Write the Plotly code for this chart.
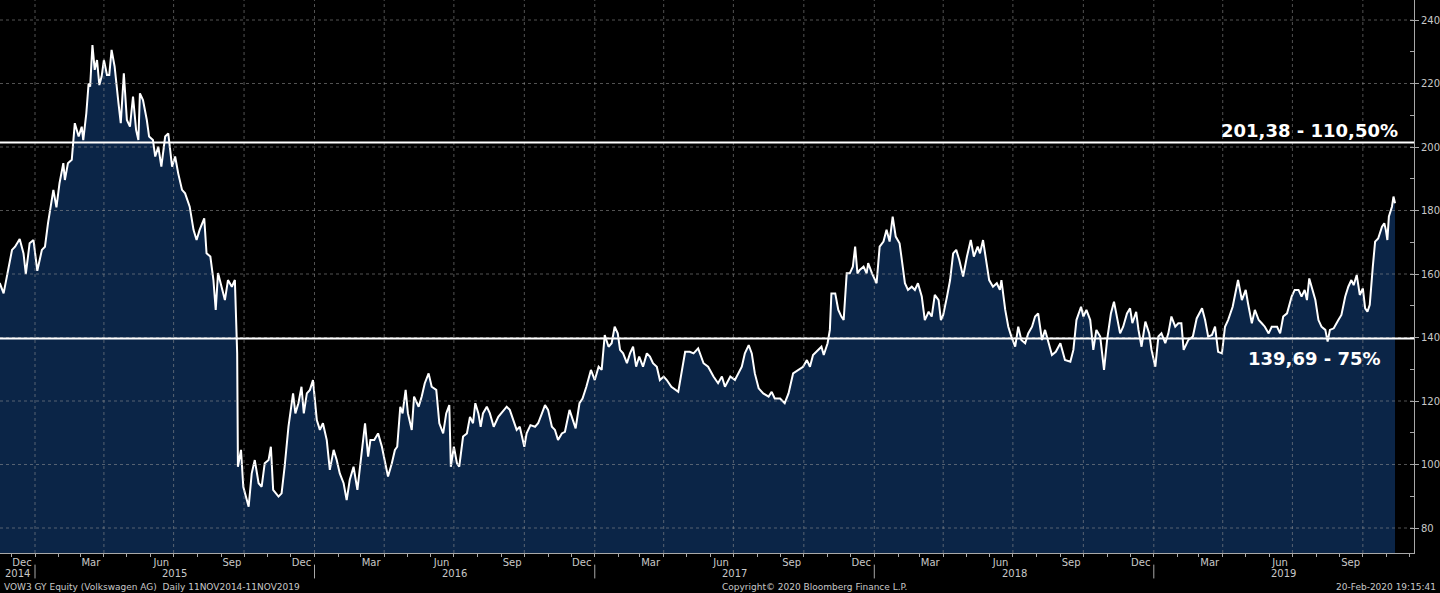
import pandas as pd
import plotly.graph_objects as go

# ---- data ----
# days counted from 1 Jan 2015
days_since_2015 = [
    -51, -46, -41, -37, -30, -26, -20, -15, -12, -7, -2, 3, 9, 13, 17, 24, 28, 32, 37, 39, 43, 48,
    52, 57, 61, 63, 67, 70, 72, 75, 78, 81, 84, 87, 90, 94, 97, 100, 104, 109, 112, 116, 120, 124,
    128, 132, 135, 137, 141, 146, 149, 154, 157, 161, 165, 170, 174, 179, 183, 187, 192, 196, 202,
    207, 211, 215, 221, 224, 229, 233, 236, 239, 244, 248, 252, 257, 261, 264, 265, 269, 272, 276,
    279, 283, 287, 292, 296, 300, 305, 308, 311, 318, 322, 326, 331, 337, 340, 344, 348, 351, 355,
    359, 363, 368, 372, 376, 381, 385, 390, 394, 398, 403, 407, 411, 416, 421, 427, 431, 435, 438,
    443, 448, 453, 457, 461, 466, 470, 473, 477, 480, 484, 487, 492, 495, 501, 505, 509, 514, 518,
    524, 528, 533, 537, 541, 543, 547, 551, 554, 559, 564, 568, 572, 575, 579, 582, 585, 590, 594,
    599, 605, 611, 616, 620, 625, 629, 633, 639, 642, 647, 653, 657, 662, 666, 670, 675, 679, 683,
    688, 692, 698, 702, 706, 711, 715, 720, 726, 731, 736, 740, 744, 749, 753, 757, 761, 764, 768,
    773, 777, 781, 785, 789, 794, 799, 803, 807, 812, 816, 821, 825, 831, 840, 845, 849, 855, 860,
    866, 873, 879, 886, 892, 897, 901, 908, 914, 918, 923, 927, 932, 936, 940, 945, 951, 958, 962,
    966, 973, 979, 984, 990, 997, 1003, 1008, 1012, 1016, 1023, 1027, 1030, 1035, 1038, 1040, 1045,
    1049, 1053, 1056, 1060, 1064, 1068, 1071, 1074, 1077, 1082, 1086, 1088, 1093, 1099, 1103, 1108,
    1112, 1116, 1120, 1124, 1129, 1132, 1136, 1140, 1145, 1149, 1153, 1158, 1162, 1167, 1171, 1175,
    1180, 1183, 1186, 1191, 1195, 1199, 1203, 1207, 1212, 1217, 1222, 1226, 1231, 1234, 1238, 1242,
    1246, 1251, 1256, 1260, 1262, 1267, 1271, 1275, 1280, 1284, 1288, 1293, 1297, 1302, 1306, 1310,
    1315, 1319, 1323, 1328, 1333, 1339, 1345, 1352, 1356, 1360, 1366, 1369, 1373, 1378, 1382, 1386,
    1391, 1396, 1400, 1405, 1409, 1413, 1417, 1421, 1426, 1430, 1433, 1438, 1441, 1445, 1450, 1455,
    1458, 1463, 1467, 1471, 1476, 1480, 1484, 1489, 1493, 1497, 1500, 1506, 1512, 1517, 1524, 1528,
    1532, 1537, 1541, 1545, 1550, 1554, 1558, 1564, 1571, 1576, 1581, 1584, 1589, 1593, 1598, 1602,
    1606, 1611, 1615, 1622, 1626, 1630, 1635, 1641, 1645, 1650, 1654, 1658, 1661, 1664, 1667, 1672,
    1676, 1680, 1685, 1688, 1691, 1696, 1702, 1706, 1711, 1715, 1719, 1722, 1726, 1730, 1734, 1737,
    1740, 1743, 1747, 1750, 1754, 1759, 1762, 1764, 1766, 1768, 1772, 1774, 1776,
]
price = [
    155.0, 157.1, 153.9, 159.0, 167.6, 168.6, 171.0, 166.5, 160.0, 169.7, 170.7, 161.0, 167.6, 168.6,
    176.0, 186.5, 181.0, 188.6, 194.9, 189.6, 194.9, 196.0, 207.5, 203.3, 206.4, 202.2, 210.6, 220.0,
    219.0, 232.1, 224.3, 227.4, 219.5, 222.2, 227.4, 222.7, 222.7, 230.6, 225.3, 213.8, 207.5, 223.2,
    208.5, 206.4, 215.9, 205.4, 202.2, 216.9, 214.8, 208.5, 203.3, 202.2, 197.0, 200.1, 193.8, 203.3,
    204.3, 193.8, 197.0, 191.7, 186.5, 185.4, 181.2, 173.9, 170.7, 173.9, 177.5, 166.5, 165.5, 158.1,
    148.7, 160.3, 156.0, 151.8, 158.1, 156.0, 158.1, 135.0, 99.3, 104.6, 93.0, 88.8, 86.7, 97.2, 101.4,
    94.1, 93.0, 100.4, 101.4, 105.6, 92.0, 89.9, 90.9, 99.3, 111.9, 122.4, 116.1, 119.3, 124.5, 116.1,
    122.4, 123.5, 126.6, 114.0, 110.9, 113.0, 107.7, 98.3, 104.6, 101.4, 97.2, 94.1, 88.8, 95.1, 99.3,
    92.0, 103.5, 113.0, 102.5, 107.7, 107.7, 109.8, 105.6, 101.4, 96.2, 100.4, 104.6, 105.6, 118.2,
    116.1, 123.5, 116.1, 110.9, 121.4, 118.2, 121.4, 125.6, 128.7, 124.5, 123.5, 113.0, 109.8, 116.1,
    118.7, 99.3, 105.6, 100.4, 99.3, 108.8, 109.8, 115.0, 113.0, 119.3, 116.1, 111.9, 116.1, 118.2,
    116.1, 111.9, 115.0, 116.6, 118.2, 117.2, 114.0, 110.9, 111.9, 105.6, 109.8, 112.4, 111.9, 113.0,
    116.1, 118.7, 117.2, 111.9, 110.9, 107.7, 109.8, 110.3, 117.2, 114.0, 111.4, 119.3, 120.8, 124.5,
    129.8, 126.6, 130.8, 129.8, 140.8, 137.1, 138.2, 143.4, 141.3, 136.1, 135.0, 131.9, 135.0, 137.1,
    130.8, 134.0, 130.8, 135.0, 134.0, 131.9, 130.8, 126.6, 127.7, 126.6, 124.5, 122.9, 129.8, 135.5,
    135.5, 135.0, 136.6, 131.9, 130.8, 127.7, 125.6, 127.7, 124.5, 127.7, 126.6, 128.7, 130.8, 135.0,
    137.6, 135.0, 128.7, 124.0, 122.4, 121.4, 122.9, 120.8, 120.8, 119.3, 122.4, 128.7, 129.8, 130.8,
    132.9, 130.8, 134.5, 136.1, 137.1, 134.5, 138.2, 142.4, 153.9, 153.9, 148.7, 146.6, 145.5, 160.2,
    160.2, 162.3, 168.6, 160.2, 161.3, 162.3, 160.2, 163.4, 160.2, 157.1, 168.6, 170.2, 173.9, 170.2,
    178.1, 171.8, 169.7, 164.4, 157.1, 155.0, 156.0, 155.0, 157.1, 152.9, 145.5, 148.1, 146.6, 153.4,
    151.8, 145.5, 147.1, 152.9, 158.1, 166.5, 167.6, 164.4, 159.2, 165.5, 170.7, 165.5, 168.6, 166.5,
    170.7, 164.4, 158.1, 156.0, 157.1, 155.0, 158.1, 148.7, 143.4, 140.3, 137.1, 143.4, 139.2, 138.2,
    141.3, 143.4, 146.6, 147.6, 139.2, 142.4, 139.2, 134.5, 135.5, 138.2, 132.9, 132.4, 136.1, 145.5,
    149.7, 146.6, 148.7, 145.5, 136.1, 142.4, 140.3, 129.8, 139.2, 147.6, 151.3, 146.6, 141.3, 143.4,
    147.6, 149.2, 144.5, 148.1, 142.4, 137.1, 145.0, 141.3, 136.1, 130.8, 140.3, 141.3, 138.2, 141.3,
    146.6, 143.4, 144.5, 144.5, 136.1, 139.2, 140.3, 146.0, 149.2, 145.5, 140.3, 140.8, 143.4, 135.5,
    135.0, 143.4, 145.5, 149.7, 158.1, 151.8, 155.0, 150.8, 144.5, 148.7, 145.5, 144.5, 143.4, 141.3,
    143.4, 143.4, 141.3, 146.6, 147.6, 152.9, 155.0, 155.0, 152.9, 155.0, 151.8, 158.6, 156.0, 151.8,
    145.5, 143.4, 142.4, 138.7, 142.4, 142.9, 145.5, 147.1, 152.9, 156.0, 158.1, 156.5, 159.7, 153.4,
    155.5, 149.2, 148.1, 150.3, 162.3, 170.2, 171.2, 174.9, 176.0, 173.9, 170.7, 178.1, 181.2, 184.4,
    182.3,
]

level_values = [201.38, 139.69]
level_labels = ["201,38 - 110,50%", "139,69 - 75%"]

y_ticks = [80, 100, 120, 140, 160, 180, 200, 220, 240]

month_tick_dates = [
    "2014-12-15", "2015-03-15", "2015-06-15", "2015-09-15", "2015-12-15",
    "2016-03-15", "2016-06-15", "2016-09-15", "2016-12-15", "2017-03-15",
    "2017-06-15", "2017-09-15", "2017-12-15", "2018-03-15", "2018-06-15",
    "2018-09-15", "2018-12-15", "2019-03-15", "2019-06-15", "2019-09-15",
]
month_tick_text = ["Dec", "Mar", "Jun", "Sep"] * 5

year_labels = ["2014", "2015", "2016", "2017", "2018", "2019"]
year_starts = ["2015-01-01", "2016-01-01", "2017-01-01", "2018-01-01", "2019-01-01"]

x_range = ["2014-11-16 07:00", "2019-12-06 19:00"]

footer_left = "VOW3 GY Equity (Volkswagen AG)  Daily 11NOV2014-11NOV2019"
footer_mid = "Copyright\u00a9 2020 Bloomberg Finance L.P."
footer_right = "20-Feb-2020 19:15:41"

# ---- derived ----
dates = pd.Timestamp("2015-01-01") + pd.to_timedelta(days_since_2015, unit="D")
quarter_grid = pd.date_range("2015-01-01", "2019-10-01", freq="QS")
month_starts = pd.date_range("2014-12-01", "2019-12-01", freq="MS")

AX = "#a8a8a8"
TXT = "#c8c8c8"
GRID = "rgba(150,150,150,0.55)"
FONT = "DejaVu Sans"

fig = go.Figure()
fig.add_trace(go.Scatter(
    x=dates, y=price, mode="lines",
    line=dict(color="white", width=2),
    fill="tozeroy", fillcolor="#0b2547",
    hoverinfo="skip", showlegend=False,
))

shapes = []
for q in quarter_grid:
    shapes.append(dict(type="line", xref="x", yref="paper", x0=q, x1=q, y0=0, y1=1,
                       line=dict(color=GRID, width=1, dash="dot"), layer="above"))
for t in y_ticks:
    shapes.append(dict(type="line", xref="paper", yref="y", x0=0, x1=1, y0=t, y1=t,
                       line=dict(color=GRID, width=1, dash="dot"), layer="above"))
for lv in level_values:
    shapes.append(dict(type="line", xref="paper", yref="y", x0=0, x1=1, y0=lv, y1=lv,
                       line=dict(color="white", width=2), layer="above"))
for ys in year_starts:
    shapes.append(dict(type="line", xref="x", yref="paper", x0=ys, x1=ys, y0=-0.021, y1=-0.046,
                       line=dict(color=AX, width=1)))

annotations = []
# level labels
annotations.append(dict(text=level_labels[0], x=0.990, xref="paper", xanchor="right",
                        y=level_values[0], yref="y", yanchor="middle", yshift=12,
                        showarrow=False, font=dict(family=FONT, size=18, color="white", weight="bold")))
annotations.append(dict(text=level_labels[1], x=0.978, xref="paper", xanchor="right",
                        y=level_values[1], yref="y", yanchor="middle", yshift=-20,
                        showarrow=False, font=dict(family=FONT, size=18, color="white", weight="bold")))

# year labels: centred on the visible span of each year
bounds = [pd.Timestamp(x_range[0])] + [pd.Timestamp(s) for s in year_starts] + [pd.Timestamp(x_range[1])]
for i, yl in enumerate(year_labels):
    mid = bounds[i] + (bounds[i + 1] - bounds[i]) / 2
    annotations.append(dict(text=yl, x=mid, xref="x", y=-0.037, yref="paper", yanchor="middle",
                            showarrow=False, font=dict(family=FONT, size=10, color=TXT)))

# footer
annotations.append(dict(text=footer_left, x=0.0014, xref="paper", xanchor="left", y=-0.0615, yref="paper",
                        yanchor="middle", showarrow=False, font=dict(family=FONT, size=9, color=TXT)))
annotations.append(dict(text=footer_mid, x=0.5757, xref="paper", xanchor="center", y=-0.0615, yref="paper",
                        yanchor="middle", showarrow=False, font=dict(family=FONT, size=9, color=TXT)))
annotations.append(dict(text=footer_right, x=1.017, xref="paper", xanchor="right", y=-0.0615, yref="paper",
                        yanchor="middle", showarrow=False, font=dict(family=FONT, size=9, color=TXT)))

fig.update_layout(
    width=1440, height=593,
    margin=dict(l=0, r=26, t=0, b=40),
    paper_bgcolor="black", plot_bgcolor="black",
    showlegend=False,
    shapes=shapes, annotations=annotations,
    xaxis=dict(
        type="date", range=x_range,
        tickmode="array", tickvals=month_tick_dates, ticktext=month_tick_text,
        ticks="", showgrid=False, zeroline=False,
        showline=True, linecolor=AX, linewidth=1,
        tickfont=dict(family=FONT, size=10, color=TXT),
        minor=dict(tickmode="array", tickvals=list(month_starts), ticks="outside",
                   ticklen=3, tickcolor=AX, showgrid=False),
    ),
    yaxis=dict(
        range=[72.13, 246.3], side="right",
        tickmode="array", tickvals=y_ticks,
        ticks="outside", ticklen=4, tickcolor=AX,
        showgrid=False, zeroline=False,
        showline=True, linecolor=AX, linewidth=1,
        tickfont=dict(family=FONT, size=10, color=TXT),
        minor=dict(tickmode="linear", tick0=0, dtick=10, ticks="inside", ticklen=4,
                   tickcolor=AX, showgrid=False),
    ),
)

fig.write_html("out.html")
